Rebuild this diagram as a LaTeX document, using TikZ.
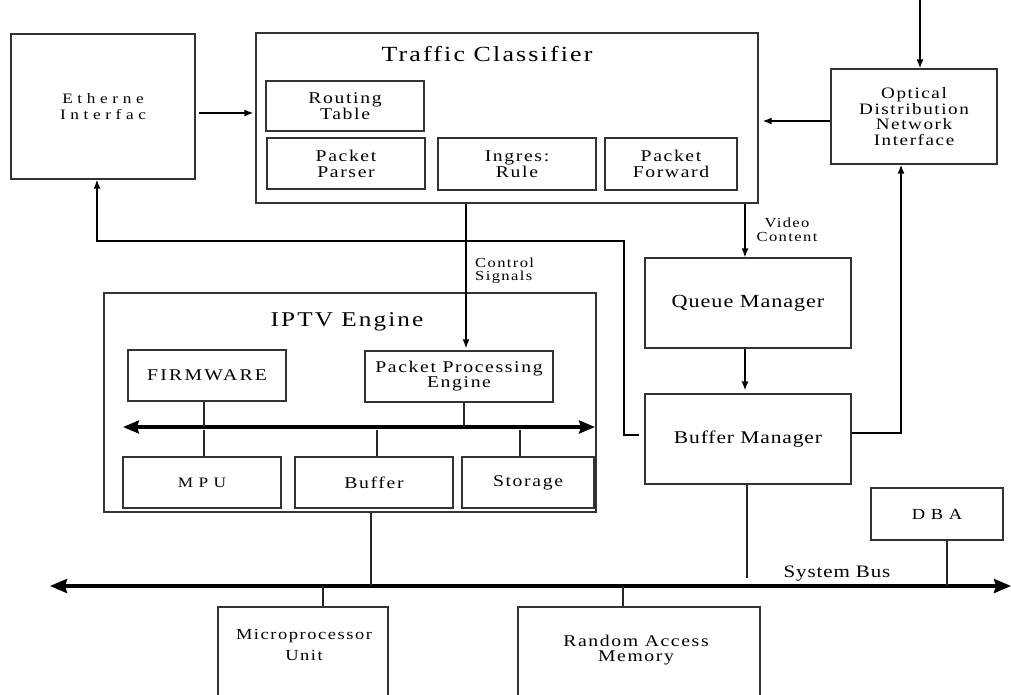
\documentclass[tikz,border=0pt]{standalone}
\usepackage{fontspec}
\setmainfont{Liberation Serif}[FakeStretch=1.2, LetterSpace=10]
\newfontfamily\titlefont{Liberation Serif}[FakeStretch=1.2, LetterSpace=5]
\newfontfamily\capsfont{Liberation Serif}[FakeStretch=1.2, LetterSpace=14]
\newfontfamily\widefont{Liberation Serif}[FakeStretch=1.2, LetterSpace=32]
\newfontfamily\xwidefont{Liberation Serif}[FakeStretch=1.2, LetterSpace=37]
\usetikzlibrary{arrows.meta,calc}
\begin{document}
\begin{tikzpicture}[x=1pt,y=-1pt,
  blk/.style={draw=black!80, line width=1.2pt, inner sep=0pt, align=center},
  conn/.style={draw=black, line width=1.5pt},
  tap/.style={draw=black!85, line width=1.2pt},
  arr/.style={conn, -{Latex[length=9pt,width=7pt]}},
  ibus/.style={draw=black, line width=3.2pt,
    {Stealth[length=16pt,width=13pt,inset=2pt]}-{Stealth[length=16pt,width=13pt,inset=2pt]}},
  sbus/.style={draw=black, line width=3.5pt,
    {Stealth[length=17pt,width=14pt,inset=2pt]}-{Stealth[length=17pt,width=14pt,inset=2pt]}},
  lbl/.style={inner sep=0pt, font=\fontsize{13.8}{13.5}\selectfont}
]
\clip (0,0) rectangle (1011,695);
\fill[white] (0,0) rectangle (1011,695);

% ---------------- top row ----------------
\node[blk, minimum width=184pt, minimum height=145pt,
      font=\widefont\fontsize{14.4}{15.3}\selectfont] (eth) at (103,106.5) {Etherne\\Interfac};

\node[blk, minimum width=502pt, minimum height=170pt] (tc) at (507,118) {};
\node[inner sep=0pt, font=\fontsize{21.6}{21.6}\selectfont] (tctitle) at (487,54) {Traffic Classifier};
\node[blk, minimum width=158pt, minimum height=50pt, font=\fontsize{16.4}{16}\selectfont] (rt) at (345,106) {Routing\\Table};
\node[blk, minimum width=158pt, minimum height=51pt, font=\fontsize{16.4}{16}\selectfont] (pp) at (346,163.5) {Packet\\Parser};
\node[blk, minimum width=158pt, minimum height=52pt, font=\fontsize{16.4}{16}\selectfont] (ir) at (517,164) {Ingres:\\Rule};
\node[blk, minimum width=132pt, minimum height=52pt, font=\fontsize{16.4}{16}\selectfont] (pf) at (671,164) {Packet\\Forward};

\node[blk, minimum width=166pt, minimum height=95pt, font=\fontsize{15.9}{15.7}\selectfont] (odn) at (914,116.5)
  {Optical\\Distribution\\Network\\Interface};

% ---------------- right column ----------------
\node[blk, minimum width=206pt, minimum height=90pt, font=\titlefont\fontsize{18.5}{18}\selectfont] (qm) at (748,303) {Queue Manager};
\node[blk, minimum width=206pt, minimum height=90pt, font=\titlefont\fontsize{17.9}{17.5}\selectfont] (bm) at (748,439) {Buffer Manager};

% ---------------- IPTV engine ----------------
\node[blk, minimum width=492pt, minimum height=219pt] (iptv) at (350,402.5) {};
\node[inner sep=0pt, font=\fontsize{21}{21}\selectfont] (iptvtitle) at (347,322) {IPTV Engine};
\node[blk, minimum width=158pt, minimum height=51pt, font=\capsfont\fontsize{16.4}{16}\selectfont,
      text width=150pt, xshift=-4pt] (fw) at (211,375.5) {FIRMWARE};
\node[blk, minimum width=188pt, minimum height=51pt, font=\fontsize{16.4}{15}\selectfont] (ppe) at (459,376.5) {Packet Processing\\Engine};
\node[blk, minimum width=158pt, minimum height=51pt, font=\xwidefont\fontsize{14.4}{14}\selectfont] (mpu) at (202,482.5) {MPU};
\node[blk, minimum width=158pt, minimum height=51pt, font=\fontsize{16.4}{16}\selectfont] (buf) at (374,482.5) {Buffer};
\node[blk, minimum width=132pt, minimum height=51pt, font=\fontsize{16.4}{16}\selectfont] (sto) at (528,482.5) {Storage};

% ---------------- bottom ----------------
\node[blk, minimum width=132pt, minimum height=52pt, font=\xwidefont\fontsize{15.4}{15}\selectfont] (dba) at (937,514) {DBA};
\node[blk, minimum width=170pt, minimum height=93pt] (mcu) at (303,653.5) {};
\node[inner sep=0pt, align=center, font=\fontsize{15.4}{21.5}\selectfont] (mcutxt) at (304,645) {Microprocessor\\Unit};
\node[blk, minimum width=242pt, minimum height=93pt] (ram) at (639,653.5) {};
\node[inner sep=0pt, align=center, font=\fontsize{16.4}{15.5}\selectfont] (ramtxt) at (636,650) {Random Access\\Memory};

% ---------------- connectors, upper part ----------------
\draw[arr, shorten <=3pt, shorten >=2pt] ([yshift=-6.5pt]eth.east) -- ([yshift=-6.5pt]eth.east -| tc.west);
\draw[arr, shorten >=4pt] ([yshift=-4.5pt]odn.west) -- ([yshift=-4.5pt]odn.west -| tc.east);
\coordinate (odnin) at (920,0);
\draw[arr] (odnin) -- (odnin |- odn.north);
\draw[arr] ([xshift=-3pt]qm.north |- tc.south) -- ([xshift=-3pt]qm.north);
\node[lbl, align=center] (vc) at (787,230) {Video\\Content};
\draw[arr, shorten >=2pt] ([xshift=7pt]ppe.north |- tc.south) -- ([xshift=7pt]ppe.north);
\node[lbl, align=left, anchor=west] (cs) at (475,270.5) {Control\\Signals};
\draw[arr, shorten >=3pt] ([xshift=-3pt]qm.south) -- ([xshift=-3pt]bm.north);
\draw[arr] ([yshift=6pt]bm.east) -| ([xshift=-13pt]odn.south);
\coordinate (fbtop) at (624,241);
\draw[arr] ([xshift=-5pt,yshift=4pt]bm.west) -| (fbtop) -| ([xshift=-6pt]eth.south);

% ---------------- IPTV internal bus ----------------
\coordinate (ibL) at (123,427);
\coordinate (ibR) at (595,427);
\draw[ibus] (ibL) -- (ibR);
\draw[tap] ([xshift=-3pt]fw.south) -- ([xshift=-3pt]fw.south |- ibL);
\draw[tap, shorten <=3pt] ([xshift=2pt]mpu.north |- ibL) -- ([xshift=2pt]mpu.north);
\draw[tap] ([xshift=5pt]ppe.south) -- ([xshift=5pt]ppe.south |- ibL);
\draw[tap, shorten <=3pt] ([xshift=3pt]buf.north |- ibL) -- ([xshift=3pt]buf.north);
\draw[tap, shorten <=3pt] ([xshift=-8pt]sto.north |- ibL) -- ([xshift=-8pt]sto.north);

% ---------------- system bus ----------------
\coordinate (sbL) at (50,586);
\coordinate (sbR) at (1011,586);
\draw[sbus] (sbL) -- (sbR);
\node[inner sep=0pt, font=\titlefont\fontsize{17.5}{17}\selectfont] (sblabel) at (837,574) {System Bus};
\draw[tap] ([xshift=21pt]iptv.south) -- ([xshift=21pt]iptv.south |- sbL);
\draw[tap] ([xshift=20pt]mcu.north |- sbL) -- ([xshift=20pt]mcu.north);
\draw[tap] ([xshift=-16pt]ram.north |- sbL) -- ([xshift=-16pt]ram.north);
\draw[tap, shorten >=8pt] ([xshift=-1pt]bm.south) -- ([xshift=-1pt]bm.south |- sbL);
\draw[tap] ([xshift=10pt]dba.south) -- ([xshift=10pt]dba.south |- sbL);
\end{tikzpicture}
\end{document}
